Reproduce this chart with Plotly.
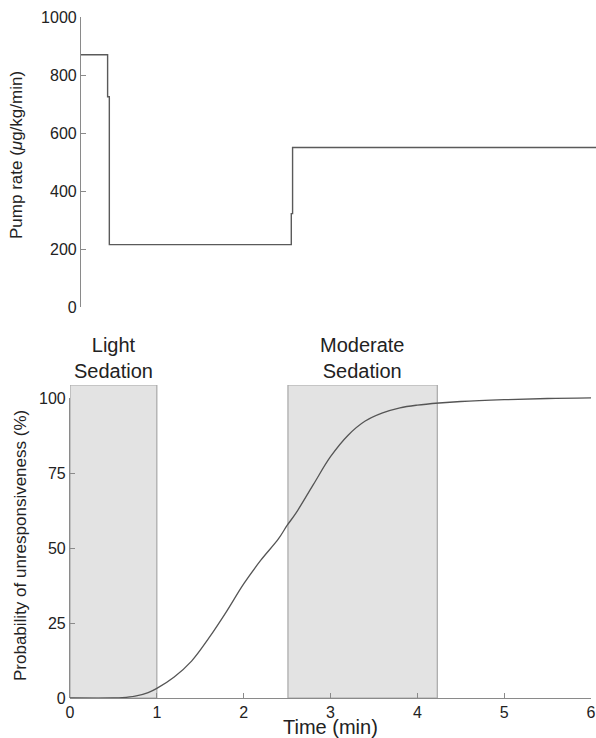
import plotly.graph_objects as go

W, H = 596, 738

# Top panel: pump rate step profile
pump_t = [0.0, 0.31, 0.31, 0.33, 0.33, 2.45, 2.45, 2.465, 2.465, 6.0]
pump_rate = [870, 870, 725, 725, 215, 215, 322, 322, 550, 550]
pump_yticks = [0, 200, 400, 600, 800, 1000]

# Bottom panel: probability of unresponsiveness
prob_t = [0, 0.5, 0.6, 0.75, 0.9, 1.0, 1.2, 1.4, 1.6, 1.8, 2.0, 2.2, 2.4, 2.5,
          2.6, 2.8, 3.0, 3.2, 3.4, 3.6, 3.8, 4.0, 4.25, 4.5, 5.0, 5.5, 6.0]
prob_p = [0, 0, 0.1, 0.6, 1.8, 3.2, 7.0, 12.3, 20, 28.7, 38, 46, 53, 57.5,
          61.5, 71, 80.4, 87.5, 92.3, 95, 96.7, 97.6, 98.3, 98.8, 99.4, 99.8, 100]
prob_yticks = [0, 25, 50, 75, 100]
time_ticks = [0, 1, 2, 3, 4, 5, 6]

# Sedation windows
zone_labels = ["Light<br>Sedation", "Moderate<br>Sedation"]
zone_start = [0.0, 2.51]
zone_end = [1.0, 4.23]
zone_top = 104.3

FONT = "Liberation Sans, Arial, Helvetica, sans-serif"
AX = "#8a8a8a"
TXT = "#222222"

def px_x(p):
    return p / W

def px_y(p):
    return (H - p) / H

fig = go.Figure()

# bottom curve on x / y
fig.add_trace(go.Scatter(x=prob_t, y=prob_p, mode="lines", line=dict(color="#555555", width=1.3, shape="spline"),
                         showlegend=False, hoverinfo="skip", xaxis="x", yaxis="y"))
# dummy trace for visible bottom y axis (0..100)
fig.add_trace(go.Scatter(x=[0], y=[0], mode="lines", line=dict(width=0), opacity=0,
                         showlegend=False, hoverinfo="skip", xaxis="x", yaxis="y3"))
# top pump profile
fig.add_trace(go.Scatter(x=pump_t, y=pump_rate, mode="lines", line=dict(color="#5a5a5a", width=1.4),
                         showlegend=False, hoverinfo="skip", xaxis="x2", yaxis="y2"))

bottom_y0 = px_y(698)
tick_font = dict(family=FONT, size=16, color=TXT)

fig.update_layout(
    template="none",
    width=W, height=H, autosize=False,
    margin=dict(l=0, r=0, t=0, b=0, pad=0, autoexpand=False),
    paper_bgcolor="white", plot_bgcolor="rgba(0,0,0,0)",
    font=dict(family=FONT, color=TXT),
    xaxis=dict(domain=[px_x(70), px_x(591)], range=[0, 6], anchor="y", automargin=False,
               showline=True, linecolor=AX, linewidth=1.2, showgrid=False, zeroline=False,
               tickmode="array", tickvals=time_ticks, ticks="inside", ticklen=5, tickcolor=AX,
               tickfont=tick_font),
    yaxis=dict(domain=[bottom_y0, px_y(385)], range=[0, zone_top], anchor="x", automargin=False,
               showline=False, showgrid=False, zeroline=False, showticklabels=False, ticks=""),
    yaxis3=dict(domain=[bottom_y0, px_y(398)], range=[0, 100], anchor="x", automargin=False,
                showline=True, linecolor=AX, linewidth=1.2, showgrid=False, zeroline=False,
                tickmode="array", tickvals=prob_yticks, ticks="inside", ticklen=5, tickcolor=AX,
                tickfont=tick_font),
    xaxis2=dict(domain=[px_x(81), 1.0], range=[0, 6], anchor="y2", visible=False, automargin=False),
    yaxis2=dict(domain=[px_y(307), px_y(17)], range=[0, 1000], anchor="x2", automargin=False,
                showline=True, linecolor=AX, linewidth=1.2, showgrid=False, zeroline=False,
                tickmode="array", tickvals=pump_yticks, ticks="inside", ticklen=5, tickcolor=AX,
                tickfont=tick_font),
)

shapes = []
annotations = []
for lab, s, e in zip(zone_labels, zone_start, zone_end):
    shapes.append(dict(type="rect", xref="x", yref="y", x0=s, x1=e, y0=0, y1=zone_top,
                       fillcolor="#e3e3e3", line=dict(color="#a8a8a8", width=1.2), layer="below"))
    annotations.append(dict(text=lab, x=(s + e) / 2, xref="x", y=px_y(384), yref="paper",
                            xanchor="center", yanchor="bottom", showarrow=False,
                            font=dict(family=FONT, size=20, color=TXT)))

annotations.append(dict(text="Time (min)", x=px_x(330), y=px_y(739), xref="paper", yref="paper",
                        xanchor="center", yanchor="bottom", showarrow=False, borderpad=0,
                        font=dict(family=FONT, size=20, color=TXT)))
annotations.append(dict(text="Pump rate (<i>μ</i>g/kg/min)", x=px_x(17), y=px_y(155), xref="paper", yref="paper",
                        xanchor="center", yanchor="middle", textangle=-90, showarrow=False,
                        font=dict(family=FONT, size=17, color=TXT)))
annotations.append(dict(text="Probability of unresponsiveness (%)", x=px_x(21), y=px_y(546), xref="paper", yref="paper",
                        xanchor="center", yanchor="middle", textangle=-90, showarrow=False,
                        font=dict(family=FONT, size=17, color=TXT)))

fig.update_layout(shapes=shapes, annotations=annotations)

fig.write_html("out.html")
